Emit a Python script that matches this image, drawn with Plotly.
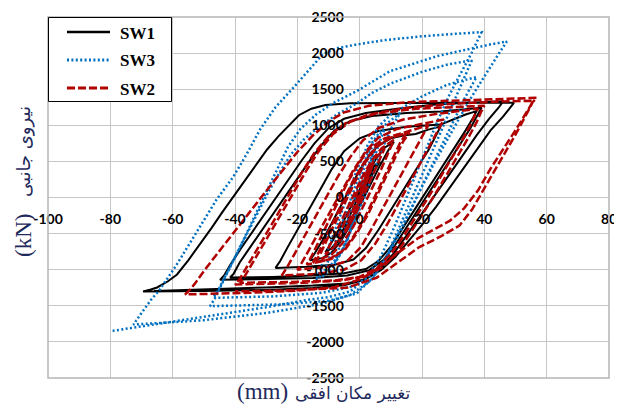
import plotly.graph_objects as go

# ---- data (displacement mm, lateral force kN) ----
sw1_pts = [
    (0, 0), (2, 220), (4, 400), (5.5, 470), (4.5, 400), (3, 240), (1, 40), (-1, -160), (-3, -350), (-5, -450),
    (-5.8, -480), (-4.8, -410), (-3, -240), (-1, -40), (1, 160), (3, 340), (5, 450), (6.5, 500),
    (4.5, 360), (2, 120), (0, -80), (-3, -330), (-6, -560), (-9, -700), (-11, -760), (-10, -690), (-7, -480),
    (-4, -230), (-1, 30), (2, 280), (5, 520), (8, 690), (11, 770),
    (9, 640), (6, 400), (3, 140), (0, -120), (-3, -380), (-6, -600), (-9, -760), (-12, -840), (-16, -870),
    (-14.5, -780), (-12, -600), (-9, -360), (-6, -110), (-3, 140), (0, 380), (3, 580), (6, 720), (10, 820),
    (14, 860), (18, 880),
    (22, 940), (26, 985), (24.5, 860), (22, 650), (18, 380), (14, 100), (10, -180), (6, -450), (2, -700),
    (-2, -860), (-8, -930), (-17, -960), (-27, -975), (-25.5, -880), (-23, -680), (-19.5, -420), (-16, -150),
    (-12.5, 120), (-9, 390), (-5, 640), (0, 820), (6, 920), (15, 980), (26, 1010),
    (30, 1080), (34, 1150), (37.5, 1196), (36.5, 1110), (34, 930), (30, 660), (26, 390), (22, 120), (18, -150),
    (14, -420), (10, -680), (6, -880), (2, -990), (-5, -1050), (-15, -1080), (-28, -1100), (-41.6, -1108),
    (-40.5, -1060), (-38.5, -900), (-35, -680), (-31, -430), (-27, -180), (-24, 0), (-20, 260), (-16, 510),
    (-12, 740), (-8, 930), (-3, 1060), (4, 1130), (15, 1170), (26, 1190), (39.1, 1242),
    (38, 1150), (35.5, 960), (31.5, 690), (27.5, 420), (23.5, 150), (19.5, -120), (15.5, -390), (11.5, -650),
    (7.5, -870), (3, -1010), (-4, -1080), (-15, -1115), (-30, -1130), (-44.8, -1140),
    (-43.5, -1080), (-41.5, -930), (-38, -700), (-34, -450), (-30, -190), (-26.5, 20), (-22.5, 270),
    (-18.5, 520), (-14.5, 750), (-10, 960), (-5, 1090), (2, 1170), (12, 1230), (25, 1290), (46.1, 1334),
    (44.5, 1240), (41.5, 1090), (37.5, 860), (33, 580), (28.5, 300), (24, 30), (20, -220), (15.5, -500),
    (11, -770), (6.5, -990), (1.5, -1140), (-5, -1215), (-15, -1255), (-30, -1280), (-50, -1295), (-69.5, -1302),
    (-67, -1275), (-65, -1246), (-61.5, -1160), (-58.6, -1066), (-55, -870), (-51.2, -650), (-47.5, -420),
    (-44, -200), (-39.4, 80), (-34, 400), (-29.7, 665), (-26, 850), (-23, 990), (-19.5, 1140), (-15.5, 1230),
    (-11, 1280), (-3, 1305), (10, 1310), (30, 1312), (49.5, 1311),
    (48.3, 1240), (46, 1120), (42, 930), (37.5, 660), (33, 380), (28.5, 110), (24.5, -130), (20, -380),
    (16, -590), (11.5, -820), (7, -1000), (2, -1130), (-4, -1190), (-15, -1220), (-30, -1245), (-50, -1275),
    (-66, -1295),
]

sw3_pts = [
    (0, 0), (2, 330), (4, 600), (3, 420), (1, 150), (-1, -150), (-3, -450), (-4, -600), (-3, -430), (-1, -130),
    (1, 170), (3, 460), (5, 700),
    (3.5, 480), (1.5, 180), (-1, -180), (-3.5, -520), (-6, -780), (-8, -900), (-7, -750), (-5, -480),
    (-2.5, -130), (0, 220), (2.5, 550), (5, 800), (8, 950),
    (6, 720), (3.5, 380), (1, 20), (-2, -360), (-5, -700), (-8.5, -950), (-12, -1100), (-10.5, -930),
    (-8, -640), (-5, -280), (-2, 80), (1, 440), (4, 760), (8, 1000), (13, 1170),
    (10, 950), (7, 650), (4, 300), (1, -60), (-2.5, -420), (-6, -760), (-10, -980), (-14, -1150),
    (-12.5, -980), (-10, -700), (-7, -350), (-4, 10), (-1, 370), (2.5, 720), (6, 980), (10, 1150), (15, 1280),
    (20, 1400), (28, 1560), (37.5, 1670), (34, 1400), (30, 1050), (25.5, 650), (21, 250), (17, -120),
    (13, -480), (9, -800), (4.5, -1050), (-2, -1230), (-12, -1320), (-28, -1370), (-47, -1390),
    (-45.5, -1290), (-43, -1080), (-39.5, -780), (-36, -480), (-32.5, -180), (-29, 100), (-25.5, 360),
    (-22, 600), (-18, 800), (-13, 980), (-7, 1160), (-1, 1300), (4, 1450), (10, 1580), (20, 1740),
    (28, 1840), (36, 1900),
    (33, 1600), (29, 1200), (25, 800), (21, 400), (17, 0), (13, -400), (9, -780), (4.5, -1100), (-1, -1330),
    (-10, -1430), (-25, -1480), (-48, -1505), (-46.5, -1400), (-44, -1180), (-40.5, -880), (-37, -560),
    (-33.5, -240), (-30, 80), (-26.5, 400), (-23, 700), (-19, 950), (-14, 1150), (-8, 1320), (-1, 1472),
    (9.7, 1749), (25, 1960), (41.8, 2119), (47.2, 2160),
    (44, 1950), (40, 1680), (36, 1400), (32, 1100), (28, 800), (24, 480), (20, 150), (16, -200), (12, -550),
    (8, -880), (3.5, -1150), (-3, -1350), (-12, -1470), (-30, -1600), (-50, -1700), (-72.6, -1760),
    (-70, -1600), (-67, -1420), (-64.1, -1274), (-59, -950), (-54.4, -628), (-50, -320), (-45.9, -28),
    (-40.5, 290), (-36, 620), (-32, 940), (-27, 1250), (-21.3, 1520), (-17, 1730), (-13.8, 1888),
    (-11.7, 1990), (-7, 2070), (-1, 2119), (8, 2180), (20.4, 2234), (30, 2265), (39.1, 2290),
    (36, 2010), (32.5, 1720), (29, 1440), (25, 1060), (21.5, 680), (19.3, 457), (15, 0), (11, -420),
    (7, -800), (2.5, -1100), (-3, -1300), (-10, -1380), (-16, -1413), (-30, -1520), (-45, -1620),
    (-60, -1720), (-72, -1790), (-80, -1852),
]

sw2_pts = [
    (0, 0), (2, 250), (4, 430), (3, 300), (1, 80), (-1, -150), (-3, -350), (-4.5, -450), (-3.5, -330),
    (-1.5, -100), (0.5, 130), (2.5, 340), (4.5, 480),
    (3, 330), (1, 100), (-1, -130), (-3, -340), (-5.5, -520), (-8, -660), (-7, -560), (-5, -360),
    (-2.5, -100), (0, 150), (2.5, 370), (5, 540), (8, 680),
    (6.5, 540), (4, 300), (1.5, 50), (-1, -200), (-4, -440), (-7, -640), (-11, -790), (-10, -700),
    (-7.5, -470), (-5, -230), (-2, 40), (1, 300), (4, 520), (7, 680), (11, 800),
    (9.5, 640), (7, 400), (4, 130), (1, -140), (-2, -400), (-5.5, -630), (-9, -790), (-14, -880),
    (-12.5, -770), (-10, -540), (-7, -270), (-4, 0), (-1, 260), (2, 500), (5.5, 700), (10, 830), (15, 890),
    (13, 760), (10.5, 520), (7.5, 250), (4.5, -20), (1.5, -290), (-2, -540), (-5.5, -740), (-10, -860),
    (-15, -900), (-13.5, -790), (-11, -560), (-8, -290), (-5, -20), (-2, 240), (1.5, 490), (5, 690),
    (9.5, 820), (16, 900),
    (14, 780), (11.5, 560), (8.5, 290), (5.5, 20), (2.5, -250), (-1, -500), (-4.5, -710), (-9, -850),
    (-17, -930), (-15.5, -820), (-13, -600), (-10, -330), (-7, -60), (-4, 200), (-0.5, 460), (3, 670),
    (8, 820), (14, 900), (18, 950),
    (22, 1000), (20.5, 880), (18, 680), (14.5, 400), (11, 130), (7.5, -150), (4, -420),
    (0.5, -680), (-4, -880), (-10, -960), (-20, -1000), (-18.5, -900), (-16, -700), (-12.5, -430),
    (-9, -160), (-5.5, 110), (-2, 380), (2, 640), (6, 830), (12, 950), (20, 1020), (27, 1080),
    (25.5, 960), (23, 760), (19.5, 480), (16, 200), (12.5, -80), (9, -360), (5, -640), (0.5, -870),
    (-5, -1000), (-14, -1060), (-25, -1080), (-23.5, -980), (-21, -790), (-17.5, -520), (-14, -250),
    (-10.5, 20), (-7, 290), (-3, 560), (1, 790), (6, 960), (14, 1080), (25, 1160), (38, 1230),
    (37, 1150), (35.5, 1000), (32.5, 760), (29, 500), (25.5, 250), (22, 0), (18, -270), (14, -540),
    (10, -780), (5.5, -980), (0, -1100), (-8, -1150), (-22, -1170), (-38.4, -1181),
    (-37, -1100), (-34.5, -920), (-31, -660), (-27.5, -400), (-24, -140), (-20.5, 120), (-17, 380),
    (-13, 650), (-8.5, 880), (-3, 1050), (5, 1160), (18, 1230), (32, 1260), (40, 1270),
    (39, 1190), (37.5, 1040), (34.5, 800), (31, 540), (27.5, 280), (24, 30), (20, -240), (16, -510),
    (12, -760), (7.5, -960), (2, -1090), (-6, -1150), (-20, -1185), (-40, -1205),
    (-38.5, -1130), (-36, -950), (-32.5, -690), (-29, -430), (-25.5, -170), (-22, 90), (-18.5, 350),
    (-14.5, 620), (-10, 850), (-4.5, 1030), (3, 1150), (15, 1240), (30, 1300), (45, 1330), (55.7, 1340),
    (54.5, 1250), (51, 1000), (46.5, 700), (42, 400), (38, 100), (33.5, -150), (29, -320), (24, -440),
    (18.5, -570), (12.5, -760), (6.5, -960), (0.5, -1130), (-8, -1240), (-20, -1290), (-35, -1320),
    (-56, -1343),
    (-54.5, -1280), (-53, -1200), (-50, -1020), (-45, -740), (-40, -460), (-35, -190), (-30, 90),
    (-25, 360), (-20, 630), (-15, 860), (-10, 1050), (-5, 1180), (3, 1270), (15, 1320), (35, 1350),
    (56.8, 1381),
    (55.5, 1320), (54.6, 1242), (50, 870), (46, 570), (43.9, 411), (40, 110), (36, -170), (32, -390),
    (26, -540), (19, -690), (12, -905), (5.4, -1112), (-4.2, -1251), (-15, -1275), (-25.6, -1290),
    (-40, -1300),
]

x_ticks = [-100, -80, -60, -40, -20, 0, 20, 40, 60, 80]
y_ticks = [-2500, -2000, -1500, -1000, -500, 0, 500, 1000, 1500, 2000, 2500]
series_names = ["SW1", "SW3", "SW2"]
x_title_fa, x_title_unit = "تغییر مکان افقی", "(mm)"
y_title_fa, y_title_unit = "نیروی جانبی", "(kN)"

series = [
    (series_names[0], sw1_pts, "#000000", "solid", 2),
    (series_names[1], sw3_pts, "#0070C0", "2px,2.4px", 2.5),
    (series_names[2], sw2_pts, "#B00000", "8px,3px", 2.5),
]

fig = go.Figure()
for name, pts, color, dash, w in series:
    fig.add_trace(go.Scatter(
        x=[p[0] for p in pts], y=[p[1] for p in pts], mode="lines", name=name,
        line=dict(color=color, width=w, dash=dash), showlegend=False,
    ))

# the page has an 8px body margin, so the figure is drawn 8px in from the top-left corner
PAGE_OFF = 8
W, H = 622 - PAGE_OFF, 404 - PAGE_OFF
L, R, T, B = 48 - PAGE_OFF, 13, 17 - PAGE_OFF, 26   # plot area: x 48..609, y 17..378 on screen

tickfont = dict(family="Lato, Liberation Sans, sans-serif", size=14, color="#000000")
grid = "#c6c6c6"
x_lo, x_hi = -100, 80
y_lo, y_hi = -2500, 2500
title_color = "#1f2a5c"
pw, ph = 561, 361


def px_to_paper_x(px):
    return (px - 48) / pw


def px_to_paper_y(py):
    return (378 - py) / ph


# legend box drawn as shapes + text (layout in screen pixels)
shapes = [dict(type="rect", xref="paper", yref="paper", x0=0, x1=1, y0=0, y1=1,
               line=dict(color="#b5b5b5", width=1.5), layer="above"),
          dict(type="rect", xref="paper", yref="paper",
               x0=px_to_paper_x(48.5), x1=px_to_paper_x(171.5), y0=px_to_paper_y(101.5), y1=px_to_paper_y(17.5),
               line=dict(color="#000000", width=1), fillcolor="white", layer="above")]
annotations = []
for i, (name, pts, color, dash, w) in enumerate(series):
    ly = 32 + 28 * i
    shapes.append(dict(type="line", xref="paper", yref="paper",
                       x0=px_to_paper_x(67), x1=px_to_paper_x(110), y0=px_to_paper_y(ly), y1=px_to_paper_y(ly),
                       line=dict(color=color, width=w + 0.5, dash=dash), layer="above"))
    annotations.append(dict(text=f"<b>{name}</b>", xref="paper", yref="paper",
                            x=px_to_paper_x(118), y=px_to_paper_y(ly + 1), xanchor="left", yanchor="middle",
                            showarrow=False,
                            font=dict(family="Liberation Serif, Times New Roman, serif", size=17,
                                      color="#000000")))

annotations += [
    dict(text=x_title_unit, xref="paper", yref="paper", x=px_to_paper_x(262), y=px_to_paper_y(391),
         xanchor="center", yanchor="middle", showarrow=False,
         font=dict(family="Liberation Serif, serif", size=23, color=title_color)),
    dict(text=x_title_fa, xref="paper", yref="paper", x=px_to_paper_x(352), y=px_to_paper_y(393),
         xanchor="center", yanchor="middle", showarrow=False,
         font=dict(family="DejaVu Sans, sans-serif", size=17, color=title_color)),
    dict(text=y_title_unit, xref="paper", yref="paper", x=px_to_paper_x(23), y=px_to_paper_y(236),
         xanchor="center", yanchor="middle", textangle=-90, showarrow=False,
         font=dict(family="Liberation Serif, serif", size=23, color=title_color)),
    dict(text=y_title_fa, xref="paper", yref="paper", x=px_to_paper_x(24), y=px_to_paper_y(152),
         xanchor="center", yanchor="middle", textangle=-90, showarrow=False,
         font=dict(family="DejaVu Sans, sans-serif", size=18, color=title_color)),
]

fig.update_layout(
    width=W, height=H,
    margin=dict(l=L, r=R, t=T, b=B, autoexpand=False),
    paper_bgcolor="white", plot_bgcolor="white",
    showlegend=False,
    xaxis=dict(
        range=[x_lo, x_hi], tickvals=x_ticks, ticktext=[f"<b>{v}</b>" for v in x_ticks],
        showgrid=True, gridcolor=grid, gridwidth=1,
        zeroline=True, zerolinecolor=grid, zerolinewidth=1, showline=False, automargin=False,
        anchor="free", position=(0 - y_lo) / (y_hi - y_lo), ticklabeloverflow="allow",
        ticks="outside", ticklen=9, tickcolor="rgba(0,0,0,0)", tickfont=tickfont,
    ),
    yaxis=dict(
        range=[y_lo, y_hi], tickvals=y_ticks, ticktext=[f"<b>{v}</b>" for v in y_ticks],
        showgrid=True, gridcolor=grid, gridwidth=1,
        zeroline=True, zerolinecolor=grid, zerolinewidth=1, showline=False, automargin=False,
        anchor="free", position=(0 - x_lo) / (x_hi - x_lo), side="left", ticklabeloverflow="allow",
        ticks="outside", ticklen=13, tickcolor="rgba(0,0,0,0)", tickfont=tickfont,
    ),
    shapes=shapes,
    annotations=annotations,
)

fig.write_html("out.html")
